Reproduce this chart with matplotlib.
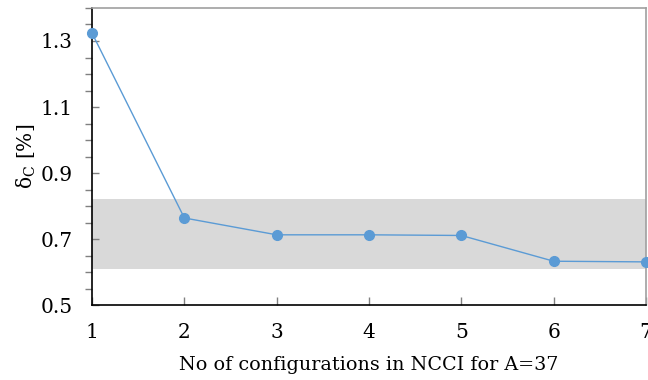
import matplotlib
matplotlib.use("Agg")
import matplotlib.pyplot as plt
from matplotlib.ticker import MultipleLocator

configs = [1, 2, 3, 4, 5, 6, 7]
delta_c = [1.324, 0.764, 0.713, 0.713, 0.711, 0.633, 0.631]
band_low, band_high = 0.61, 0.82

plt.rcParams['font.family'] = ['DejaVu Serif']
plt.rcParams['mathtext.fontset'] = 'dejavuserif'

fig = plt.figure(figsize=(6.48, 3.8), dpi=100)
ax = fig.add_axes([0.142, 0.197, 0.855, 0.782])

ax.axhspan(band_low, band_high, color='#D9D9D9', lw=0, zorder=0)
ax.plot(configs, delta_c, color='#5B9BD5', lw=1.0, marker='o', ms=7,
        clip_on=False, zorder=3)

ax.set_xlim(1, 7)
ax.set_ylim(0.5, 1.4)
ax.set_xticks(configs)
ax.yaxis.set_minor_locator(MultipleLocator(0.05))
ax.set_yticks([0.5, 0.7, 0.9, 1.1, 1.3])

ax.tick_params(axis='both', direction='in', colors='#808080', labelcolor='black',
               labelsize=14.5, width=1)
ax.tick_params(axis='y', which='major', length=5, pad=14)
ax.tick_params(axis='y', which='minor', length=5, width=1, colors='#808080')
ax.tick_params(axis='x', which='major', length=6, pad=13)

for s in ['left', 'bottom']:
    ax.spines[s].set_color('black')
    ax.spines[s].set_linewidth(1.2)
for s in ['top', 'right']:
    ax.spines[s].set_color('#A0A0A0')
    ax.spines[s].set_linewidth(1.2)

ax.set_xlabel('No of configurations in NCCI for A=37', fontsize=13.8, labelpad=10)
ax.set_ylabel(r'δ$_{\mathrm{C}}$ [%]', fontsize=14.5, labelpad=2)

fig.savefig('out.png', dpi=100)
